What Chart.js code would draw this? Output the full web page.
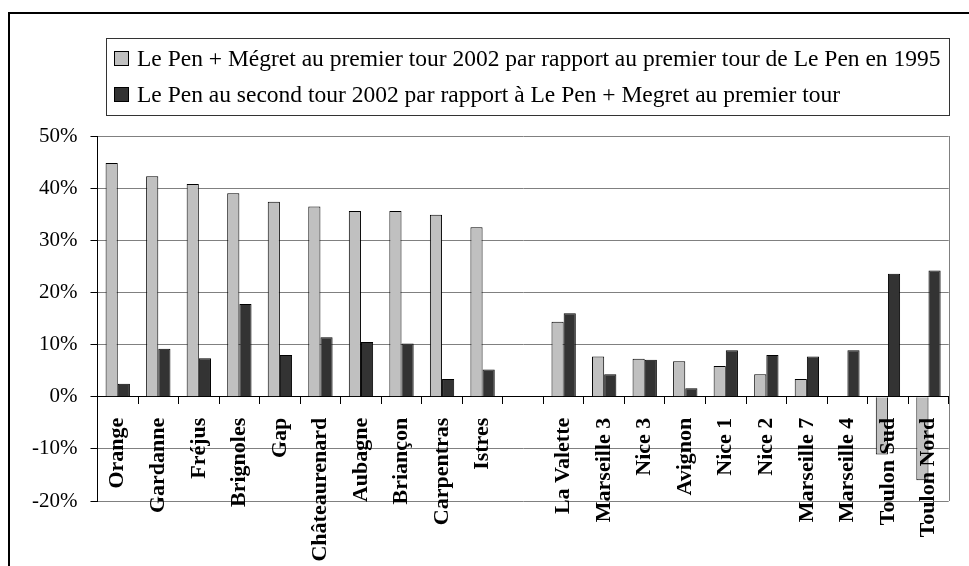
<!DOCTYPE html>
<html>
<head>
<meta charset="utf-8">
<script src="https://cdn.jsdelivr.net/npm/chart.js@4.4.1/dist/chart.umd.min.js"></script>
<style>
  html, body { margin: 0; padding: 0; background: #fff; }
  #wrap { position: relative; width: 969px; height: 566px; }
</style>
</head>
<body>
<div id="wrap"><canvas id="voteChart"></canvas></div>
<script>
// --- data (percent) ---
const communes = ['Orange', 'Gardanne', 'Fréjus', 'Brignoles', 'Gap', 'Châteaurenard', 'Aubagne',
    'Briançon', 'Carpentras', 'Istres', '', 'La Valette', 'Marseille 3', 'Nice 3', 'Avignon',
    'Nice 1', 'Nice 2', 'Marseille 7', 'Marseille 4', 'Toulon Sud', 'Toulon Nord'];

// Le Pen + Mégret 1st round 2002 vs Le Pen 1st round 1995
const premierTour = [44.8, 42.3, 40.8, 39.0, 37.4, 36.5, 35.6, 35.6, 34.9, 32.5, null,
    14.4, 7.7, 7.3, 6.8, 5.9, 4.3, 3.4, 0, -11.1, -16.0];

// Le Pen 2nd round 2002 vs Le Pen + Mégret 1st round
const secondTour = [2.5, 9.2, 7.4, 17.8, 8.0, 11.4, 10.5, 10.2, 3.4, 5.2, null,
    16.0, 4.3, 7.1, 1.6, 8.9, 8.0, 7.7, 8.9, 23.6, 24.2];

const seriesLabels = [
    'Le Pen + Mégret au premier tour 2002 par rapport au premier tour de Le Pen en 1995',
    'Le Pen au second tour 2002 par rapport à Le Pen + Megret au premier tour'
];
const seriesColors = ['#C0C0C0', '#333333'];

const yMin = -20, yMax = 50, yStep = 10;

const SERIF = '"Liberation Serif", "Times New Roman", serif';

// legend in a framed box + outer frame of the sheet
const boxLegend = {
    id: 'boxLegend',
    afterDraw(chart) {
        const ctx = chart.ctx;
        const area = chart.chartArea;
        ctx.save();

        // outer frame (top and left edges visible)
        ctx.strokeStyle = '#000';
        ctx.lineWidth = 2;
        ctx.beginPath();
        ctx.moveTo(9, 566);
        ctx.lineTo(9, 13);
        ctx.lineTo(969, 13);
        ctx.stroke();

        // right edge of the plot area
        ctx.strokeStyle = '#808080';
        ctx.lineWidth = 1;
        ctx.beginPath();
        ctx.moveTo(Math.round(area.right) + 0.5, area.top);
        ctx.lineTo(Math.round(area.right) + 0.5, area.bottom);
        ctx.stroke();

        // legend frame
        ctx.strokeStyle = '#333';
        ctx.strokeRect(106.5, 38.5, 843, 77);

        ctx.font = '23.5px ' + SERIF;
        ctx.textBaseline = 'middle';
        ctx.textAlign = 'left';
        chart.data.datasets.forEach((ds, i) => {
            const y = 59 + i * 36;
            ctx.fillStyle = ds.backgroundColor;
            ctx.fillRect(114.5, y - 7.5, 14, 14);
            ctx.strokeStyle = '#000';
            ctx.strokeRect(114.5, y - 7.5, 14, 14);
            ctx.fillStyle = '#000';
            ctx.fillText(ds.label, 137, y + 1);
        });
        ctx.restore();
    }
};

new Chart(document.getElementById('voteChart'), {
    type: 'bar',
    data: {
        labels: communes,
        datasets: [
            {
                label: seriesLabels[0],
                data: premierTour,
                backgroundColor: seriesColors[0],
                borderColor: '#000',
                borderWidth: 1
            },
            {
                label: seriesLabels[1],
                data: secondTour,
                backgroundColor: seriesColors[1],
                borderColor: '#000',
                borderWidth: 1
            }
        ]
    },
    options: {
        responsive: true,
        maintainAspectRatio: false,
        animation: false,
        datasets: { bar: { categoryPercentage: 0.6, barPercentage: 1.0 } },
        layout: { padding: { left: 19, right: 5, top: 136, bottom: 65 } },
        plugins: {
            legend: { display: false },
            tooltip: { enabled: false }
        },
        scales: {
            x: {
                position: { y: 0 },
                grid: {
                    offset: true,
                    drawOnChartArea: false,
                    drawTicks: true,
                    tickLength: 7,
                    tickColor: '#000'
                },
                border: { color: '#000', width: 1 },
                ticks: {
                    z: 1,
                    autoSkip: false,
                    minRotation: 90,
                    maxRotation: 90,
                    padding: 14,
                    color: '#000',
                    font: { family: SERIF, size: 22, weight: 'bold' }
                }
            },
            y: {
                min: yMin,
                max: yMax,
                grid: {
                    color: (c) => (c.tick && c.tick.value === 0 ? '#000' : '#808080'),
                    tickColor: '#000',
                    tickLength: 7
                },
                border: { color: '#000', width: 1 },
                ticks: {
                    stepSize: yStep,
                    padding: 13,
                    color: '#000',
                    font: { family: SERIF, size: 21 },
                    callback: (v) => v + '%'
                }
            }
        }
    },
    plugins: [boxLegend]
});
</script>
</body>
</html>
